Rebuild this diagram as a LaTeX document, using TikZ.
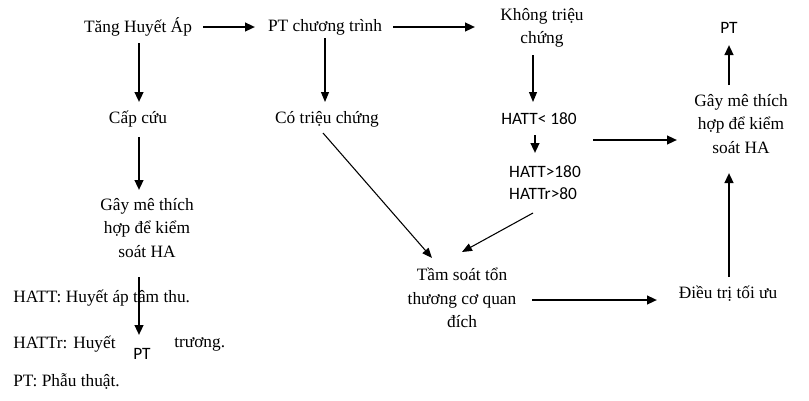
\documentclass[tikz,border=0pt]{standalone}
\usepackage{fontspec}
\setmainfont{Liberation Serif}
\newfontfamily\calib{Carlito}
\usetikzlibrary{arrows.meta}
\begin{document}
\begin{tikzpicture}[x=0.75pt,y=-0.75pt,
  txt/.style={font=\fontsize{13}{17.5}\selectfont, align=center, inner sep=2pt},
  sans/.style={font=\calib\fontsize{13}{16.5}\selectfont, inner sep=2pt},
  leg/.style={font=\fontsize{13}{16}\selectfont, anchor=west, inner sep=0pt},
  bigarr/.style={-{Triangle[length=7.5pt,width=6.5pt]}, line width=1.6pt},
  smallarr/.style={-{Triangle[length=7.5pt,width=6pt]}, line width=0.8pt}]
\useasboundingbox (0,0) rectangle (809,400);

% nodes
\node[txt] (tang) at (138,27) {Tăng Huyết Áp};
\node[txt] (ptct) at (325,27) {PT chương trình};
\node[txt] (khong) at (542,28) {Không triệu\\chứng};
\node[sans] (ptR) at (729,28) {PT};
\node[txt] (capcuu) at (138,119) {Cấp cứu};
\node[txt] (co) at (327,119) {Có triệu chứng};
\node[sans] (h180) at (539,119) {HATT< 180};
\node[sans, align=left] (h2) at (545,183) {HATT>180\\HATTr>80};
\node[txt] (gayR) at (741,124) {Gây mê thích\\hợp để kiểm\\soát HA};
\node[txt] (gayL) at (147,228) {Gây mê thích\\hợp để kiểm\\soát HA};
\node[txt] (tam) at (462,298) {Tầm soát tổn\\thương cơ quan\\đích};
\node[txt] (dieu) at (728,294) {Điều trị tối ưu};

% legend
\node[leg] (leg1) at (13,298) {HATT: Huyết áp tâm thu.};
\node[leg] (leg2a) at (13,344) {HATTr: Huyết};
\node[leg] (leg2b) at (174,344) {trương.};
\node[leg] (leg3) at (13,381) {PT: Phẫu thuật.};
\node[sans, inner sep=0pt, anchor=base] (ptL) at (142,359) {PT};

% connectors
\draw[bigarr] ([shift={(65,0)}]tang.center) -- ([shift={(-70,0)}]ptct.center);
\draw[bigarr] ([shift={(68,0)}]ptct.center) -- ([shift={(-67,-1)}]khong.center);
\draw[bigarr] ([shift={(1,16)}]tang.center) -- ([shift={(1,-17)}]capcuu.center);
\draw[bigarr] ([shift={(1,18)}]capcuu.center) -- ([shift={(-8,-38)}]gayL.center);
\draw[bigarr] ([shift={(-8,49)}]gayL.center) -- ([shift={(-3,-24)}]ptL.base);
\draw[smallarr] ([shift={(0,11)}]ptct.center) -- ([shift={(-2,-17)}]co.center);
\draw[smallarr] ([shift={(-9,27)}]khong.center) -- ([shift={(-6,-17)}]h180.center);
\draw[bigarr] ([shift={(-4,16)}]h180.center) -- ([shift={(-10,-30)}]h2.center);
\draw[smallarr] ([shift={(-4,14)}]co.center) -- ([shift={(-30,-40)}]tam.center);
\draw[smallarr] ([shift={(-12,30)}]h2.center) -- ([shift={(0,-46)}]tam.center);
\draw[bigarr] ([shift={(54,21)}]h180.center) -- ([shift={(-64,16)}]gayR.center);
\draw[bigarr] ([shift={(70,2)}]tam.center) -- ([shift={(-71,6)}]dieu.center);
\draw[bigarr] ([shift={(1,-17)}]dieu.center) -- ([shift={(-12,49)}]gayR.center);
\draw[bigarr] ([shift={(-12,-39)}]gayR.center) -- ([shift={(0,17)}]ptR.center);
\end{tikzpicture}
\end{document}
